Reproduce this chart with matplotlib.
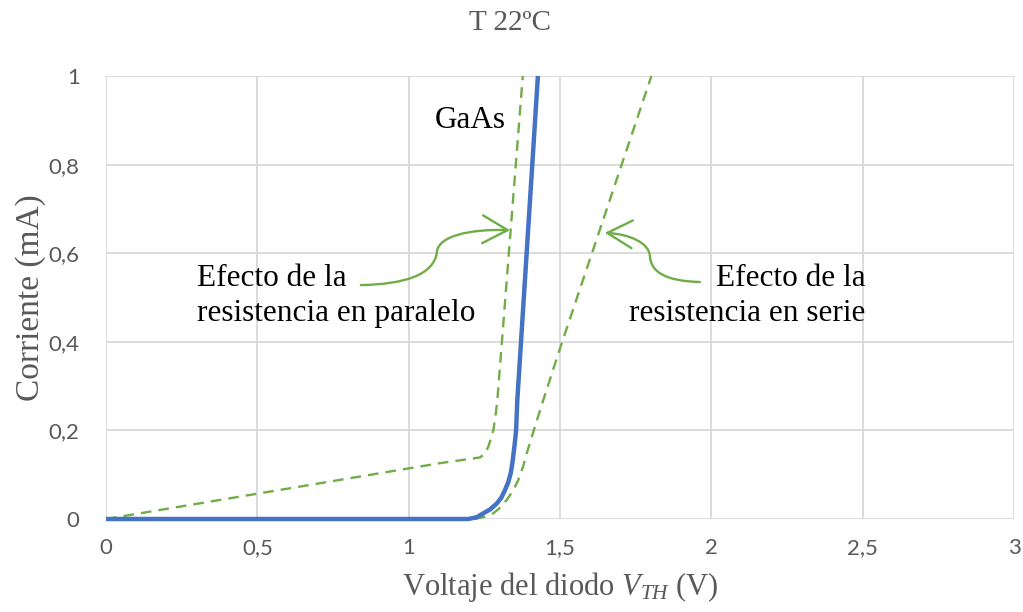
import matplotlib
matplotlib.use("Agg")
import matplotlib.pyplot as plt
from matplotlib.path import Path
from matplotlib.patches import FancyArrowPatch

plt.rcParams['mathtext.fontset'] = 'custom'
plt.rcParams['mathtext.rm'] = 'Liberation Serif'
plt.rcParams['mathtext.it'] = 'Liberation Serif:italic'

# ---- data ----
title = "T 22ºC"
xlabel = "Voltaje del diodo $V_{TH}$ (V)"
ylabel = "Corriente (mA)"
xticks = [0, 0.5, 1, 1.5, 2, 2.5, 3]
xtick_labels = ["0", "0,5", "1", "1,5", "2", "2,5", "3"]
yticks = [0, 0.2, 0.4, 0.6, 0.8, 1]
ytick_labels = ["0", "0,2", "0,4", "0,6", "0,8", "1"]

# ideal GaAs diode curve
gaas_v = [0.0, 1.197, 1.225, 1.247, 1.270, 1.291, 1.306, 1.318, 1.329, 1.337,
          1.343, 1.348, 1.352, 1.355, 1.359, 1.427]
gaas_i = [0.0, 0.0, 0.004, 0.013, 0.022, 0.035, 0.048, 0.065, 0.083, 0.103,
          0.128, 0.156, 0.180, 0.201, 0.269, 1.0]

# effect of parallel resistance
par_v = [0.0, 1.103, 1.236, 1.252, 1.263, 1.272, 1.280, 1.288, 1.293, 1.377]
par_i = [0.0, 0.126, 0.139, 0.148, 0.163, 0.182, 0.201, 0.239, 0.269, 1.0]

# effect of series resistance
ser_v = [1.219, 1.250, 1.280, 1.303, 1.324, 1.345, 1.362, 1.377, 1.390, 1.417, 1.445, 1.500, 1.802]
ser_i = [0.0, 0.005, 0.013, 0.026, 0.043, 0.064, 0.088, 0.116, 0.148, 0.208, 0.269, 0.385, 1.0]

# annotation arrow control points (data coords)
arrow_par = [(0.842, 0.528), (0.988, 0.530), (1.080, 0.551), (1.093, 0.600),
             (1.093, 0.639), (1.203, 0.655), (1.335, 0.652)]
arrow_ser = [(1.962, 0.535), (1.847, 0.537), (1.800, 0.558), (1.797, 0.594),
             (1.794, 0.623), (1.731, 0.643), (1.648, 0.646)]

BLUE = "#4472C4"
GREEN = "#70AD47"
GRAY = "#595959"
GRID = "#D9D9D9"

fig = plt.figure(figsize=(10.23, 6.12), dpi=100)
ax = fig.add_axes([106/1023, 93/612, 908/1023, 443/612])

ax.plot(par_v, par_i, color=GREEN, lw=1.7, ls=(0, (4.5, 3)), zorder=3, clip_on=False)
ax.plot(ser_v, ser_i, color=GREEN, lw=1.7, ls=(0, (4.5, 3)), zorder=3, clip_on=False)
ax.plot(gaas_v, gaas_i, color=BLUE, lw=3.2, zorder=4, solid_capstyle='butt',
        solid_joinstyle='round', clip_on=False)

ax.set_xlim(0, 3)
ax.set_ylim(0, 1)
ax.set_xticks(xticks)
ax.set_xticklabels(xtick_labels)
ax.set_yticks(yticks)
ax.set_yticklabels(ytick_labels)
ax.grid(True, color=GRID, lw=1.3)
ax.set_axisbelow(True)
for s in ax.spines.values():
    s.set_visible(False)
ax.tick_params(length=0, labelsize=16, labelcolor=GRAY, pad=14)
for lbl in ax.get_xticklabels() + ax.get_yticklabels():
    lbl.set_fontfamily('Lato')
ax.tick_params(axis='y', pad=19)

ax.set_xlabel(xlabel, fontsize=22, color=GRAY, family='Liberation Serif', labelpad=8)
ax.set_ylabel(ylabel, fontsize=24, color=GRAY, family='Liberation Serif', labelpad=2)
fig.text(510 / 1023, 1 - 23 / 612, title, fontsize=21, color=GRAY,
         family='Liberation Serif', ha='center', va='center')

txt_kw = dict(fontsize=22.5, color='black', family='Liberation Serif', linespacing=1.3)
ax.text(0.30, 0.503, "Efecto de la\nresistencia en paralelo", ha='left', va='center', **txt_kw)
ax.text(2.51, 0.503, "Efecto de la\nresistencia en serie", ha='right', va='center', **txt_kw)
ax.text(1.087, 0.90, "GaAs", ha='left', va='center', **txt_kw)

codes = [Path.MOVETO, Path.CURVE4, Path.CURVE4, Path.CURVE4, Path.CURVE4, Path.CURVE4, Path.CURVE4]
for pts in (arrow_par, arrow_ser):
    arr = FancyArrowPatch(path=Path(pts, codes), arrowstyle='->,head_length=0.9,head_width=0.5',
                          mutation_scale=20, color=GREEN, lw=1.7, transform=ax.transData,
                          clip_on=False, zorder=5)
    ax.add_patch(arr)

fig.savefig("out.png", dpi=100)
